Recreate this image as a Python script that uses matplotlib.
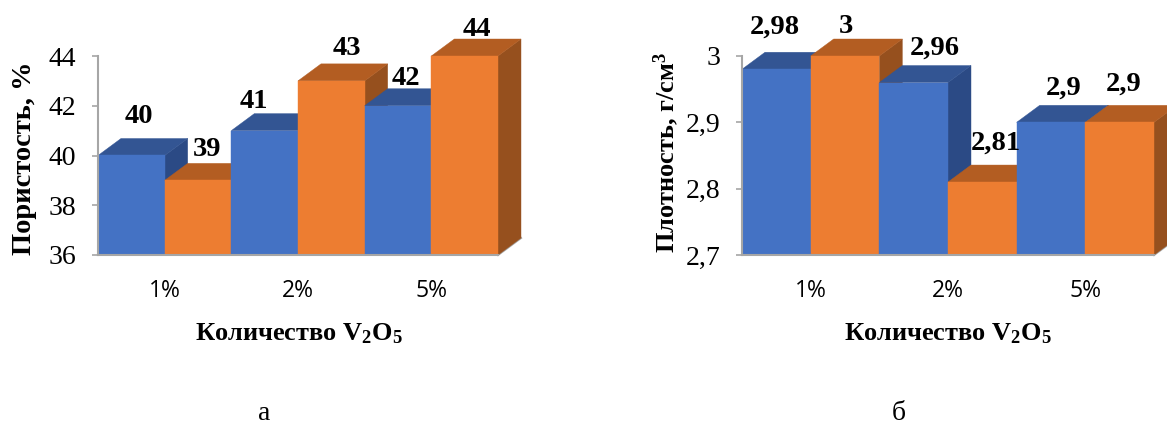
import matplotlib
matplotlib.use('Agg')
import matplotlib.pyplot as plt
from matplotlib.patches import Polygon

plt.rcParams['font.family'] = ['Liberation Serif', 'DejaVu Serif']
plt.rcParams['mathtext.default'] = 'regular'

W, H = 1167, 426

categories = ['1%', '2%', '5%']
porosity = [40, 39, 41, 43, 42, 44]
density = [2.98, 3, 2.96, 2.81, 2.9, 2.9]
porosity_labels = ['40', '39', '41', '43', '42', '44']
density_labels = ['2,98', '3', '2,96', '2,81', '2,9', '2,9']
porosity_ticks = [36, 38, 40, 42, 44]
density_ticks = [2.7, 2.8, 2.9, 3.0]
density_ticklabels = ['2,7', '2,8', '2,9', '3']

# label shifts from the bar centre / top, in pixels
porosity_shift = [(8, 39), (9, 31), (-11, 29), (16, 32), (8, 27), (12, 27)]
density_shift = [(-2, 42), (1, 29), (21, 34), (13, 39), (13, 34), (4, 38)]

BLUE = ('#4472C4', '#335593', '#2B4A85')
ORANGE = ('#ED7D31', '#B35D22', '#96501E')
GREY = '#A6A6A6'
DX, DY = 23, 17  # depth of the fake 3d, pixels


def chart(box, values, labels, shifts, yticks, yticklabels, ylim, ylabel, xlabel_x, ylabel_pos, ylabel_size):
    x0, x1, ytop, ybot = box
    ax = plt.gcf().add_axes([x0 / W, 1 - ybot / H, (x1 - x0) / W, (ybot - ytop) / H])
    ax.set_xlim(0, 6)
    ax.set_ylim(*ylim)
    dx = DX * 6 / (x1 - x0)
    dy = DY * (ylim[1] - ylim[0]) / (ybot - ytop)
    base = ylim[0]

    # floor shadow
    ax.plot([6, 6 + dx], [base, base + dy], color=GREY, lw=1.5, clip_on=False, zorder=1)

    for i, v in enumerate(values):
        front, top, side = BLUE if i % 2 == 0 else ORANGE
        z = 2 + i
        ax.add_patch(Polygon([(i + 1, base), (i + 1 + dx, base + dy), (i + 1 + dx, v + dy), (i + 1, v)],
                             fc=side, ec=side, lw=0.3, clip_on=False, zorder=z))
        ax.add_patch(Polygon([(i, v), (i + dx, v + dy), (i + 1 + dx, v + dy), (i + 1, v)],
                             fc=top, ec=top, lw=0.3, clip_on=False, zorder=z))
        ax.bar(i + 0.5, v - base, width=1, bottom=base, color=front, ec=front, lw=0.3,
               clip_on=False, zorder=z + 0.5)
        ax.annotate(labels[i], (i + 0.5, v), xytext=shifts[i], textcoords='offset pixels',
                    ha='center', va='center', fontsize=20.5, fontweight='bold', zorder=20,
                    annotation_clip=False)

    for s in ['top', 'right']:
        ax.spines[s].set_visible(False)
    for s in ['left', 'bottom']:
        ax.spines[s].set_color(GREY)
        ax.spines[s].set_linewidth(1.5)
        ax.spines[s].set_zorder(15)

    ax.set_yticks(yticks)
    ax.set_yticklabels(yticklabels, fontsize=20)
    ax.tick_params(axis='y', length=4.5, color=GREY, width=1.2, pad=11)
    ax.set_xticks([1, 3, 5])
    ax.set_xticklabels(categories, fontsize=16.5, family='Open Sans')
    ax.tick_params(axis='x', length=0, pad=17)

    plt.gcf().text(xlabel_x / W, 1 - 334 / H, 'Количество V$_2$O$_5$', ha='center', va='center',
                   fontsize=19, fontweight='bold')
    plt.gcf().text(ylabel_pos[0] / W, 1 - ylabel_pos[1] / H, ylabel, rotation=90, ha='center', va='center',
                   fontsize=ylabel_size, fontweight='bold')


fig = plt.figure(figsize=(W / 100, H / 100), dpi=100)
chart((98, 498, 56, 255), porosity, porosity_labels, porosity_shift, porosity_ticks,
      [str(t) for t in porosity_ticks], (36, 44), 'Пористость, %', 299, (25, 158), 20.5)
chart((742, 1154, 56, 255), density, density_labels, density_shift, density_ticks,
      density_ticklabels, (2.7, 3.0), 'Плотность, г/см$^3$', 948, (666, 152), 19)
fig.text(264 / W, 1 - 420 / H, 'а', ha='center', va='baseline', fontsize=20)
fig.text(899 / W, 1 - 420 / H, 'б', ha='center', va='baseline', fontsize=20)
fig.savefig('out.png', dpi=100)
